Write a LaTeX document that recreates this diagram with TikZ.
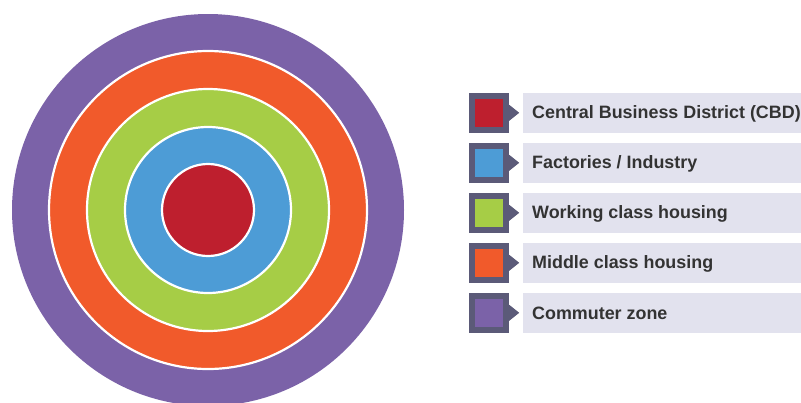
\documentclass[tikz,border=0pt]{standalone}
\usepackage{fontspec}
\setmainfont{Liberation Sans}
\begin{document}
\begin{tikzpicture}[x=1pt,y=-1pt,
  ring/.style={draw=white,line width=2.2pt},
  keybox/.style={fill=keydark,minimum width=40pt,minimum height=40pt,inner sep=0pt},
  keyin/.style={minimum width=28pt,minimum height=28pt,inner sep=0pt},
  keybar/.style={fill=barbg,minimum height=40pt,inner sep=0pt,anchor=west},
  keytext/.style={font=\bfseries\fontsize{17.9}{20}\selectfont,text=txt,anchor=west,inner sep=0pt}]
\definecolor{cpurple}{HTML}{7B62A8}
\definecolor{corange}{HTML}{F15A2B}
\definecolor{cgreen}{HTML}{A6CD46}
\definecolor{cblue}{HTML}{4D9CD6}
\definecolor{cred}{HTML}{BE1F2E}
\definecolor{keydark}{HTML}{5B5A78}
\definecolor{barbg}{HTML}{E2E2EE}
\definecolor{txt}{HTML}{333333}
\useasboundingbox[fill=white] (0,0) rectangle (801,402);
\begin{scope}
\clip (0,0) rectangle (801,402);
\fill[cpurple] (208,210) circle (196);
\draw[ring,fill=corange] (208,210) circle (159);
\draw[ring,fill=cgreen] (208,210) circle (121);
\draw[ring,fill=cblue] (208,210) circle (83);
\draw[ring,fill=cred] (208,210) circle (46);
\end{scope}
\begin{scope}
\clip (0,0) rectangle (801,402);
\foreach \i/\c/\t in {0/cred/{Central Business District (CBD)},1/cblue/{Factories / Industry},2/cgreen/{Working class housing},3/corange/{Middle class housing},4/cpurple/{Commuter zone}}{
  \pgfmathsetmacro{\yy}{113+50*\i}
  \node[keybox] (k\i) at (489,\yy) {};
  \fill[keydark] (k\i.north east) ++(0,12) -- ++(10,8) -- ++(-10,8) -- cycle;
  \node[keyin,fill=\c] (c\i) at (k\i.center) {};
  \node[keybar,minimum width=290pt] (b\i) at (523,\yy) {};
  \node[keytext] (t\i) at (532,\yy+0.5) {\t};
}
\end{scope}
\end{tikzpicture}
\end{document}
